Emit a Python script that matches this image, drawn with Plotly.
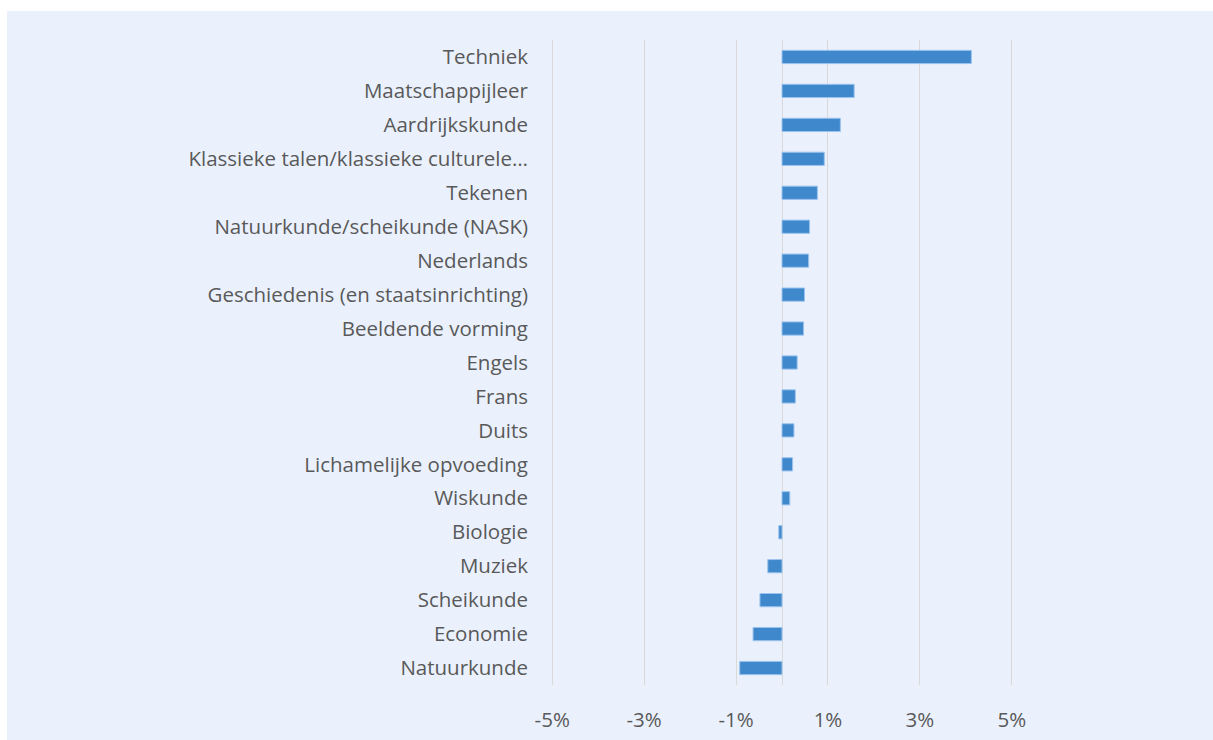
import plotly.graph_objects as go

# Subjects, top to bottom
vakken = [
    "Techniek",
    "Maatschappijleer",
    "Aardrijkskunde",
    "Klassieke talen/klassieke culturele…",
    "Tekenen",
    "Natuurkunde/scheikunde (NASK)",
    "Nederlands",
    "Geschiedenis (en staatsinrichting)",
    "Beeldende vorming",
    "Engels",
    "Frans",
    "Duits",
    "Lichamelijke opvoeding",
    "Wiskunde",
    "Biologie",
    "Muziek",
    "Scheikunde",
    "Economie",
    "Natuurkunde",
]

# Change per subject (fraction)
verschil = [
    0.0412, 0.0157, 0.0127, 0.0092, 0.0077, 0.0060, 0.0058, 0.0049, 0.0047,
    0.0033, 0.0029, 0.0026, 0.0023, 0.0017, -0.0007, -0.0031, -0.0048,
    -0.0063, -0.0092,
]

tick_vals = [-0.05, -0.03, -0.01, 0.01, 0.03, 0.05]
tick_text = ["-5%", "-3%", "-1%", "1%", "3%", "5%"]

BG = "#EAF1FD"
GRID = "#D9D9D9"
TXT = "#595959"
FONT = "Open Sans"

fig = go.Figure(
    go.Bar(
        x=verschil,
        y=vakken,
        orientation="h",
        width=0.39,
        marker=dict(color="#3F88CC", line=dict(color="#9CC3EE", width=1)),
        hoverinfo="x+y",
    )
)

W, H = 1213, 740
XR = 0.052
L, R, T, B = 543, W - 1021, 40, H - 685
pw, ph = W - L - R, H - T - B


def px_x(p):
    return (p - L) / pw


def px_y(p):
    return (H - B - p) / ph


# white frame strips along the top and left edges of the page
fig.add_shape(type="rect", xref="paper", yref="paper", layer="above",
              x0=px_x(-2), x1=px_x(7), y0=px_y(H + 2), y1=px_y(-2),
              fillcolor="white", line_width=0)
fig.add_shape(type="rect", xref="paper", yref="paper", layer="above",
              x0=px_x(-2), x1=px_x(W + 2), y0=px_y(11), y1=px_y(-2),
              fillcolor="white", line_width=0)

fig.update_layout(
    width=W,
    height=H,
    margin=dict(l=L, r=R, t=T, b=B, autoexpand=False),
    paper_bgcolor=BG,
    plot_bgcolor=BG,
    showlegend=False,
    bargap=0.61,
    font=dict(family=FONT, size=20.5, color=TXT),
)

fig.update_xaxes(
    automargin=False,
    range=[-XR, XR],
    tickvals=tick_vals,
    ticktext=tick_text,
    showgrid=True,
    gridcolor=GRID,
    gridwidth=1.3,
    zeroline=True,
    zerolinecolor=GRID,
    zerolinewidth=1.3,
    showline=False,
    ticks="",
    ticklabelstandoff=20,
    tickfont=dict(family=FONT, size=20.5, color=TXT),
)

fig.update_yaxes(
    automargin=False,
    categoryorder="array",
    categoryarray=vakken,
    autorange="reversed",
    showgrid=False,
    zeroline=False,
    showline=False,
    ticks="",
    ticklabelstandoff=14,
    tickfont=dict(family=FONT, size=20.5, color=TXT),
)

fig.write_html("out.html")
